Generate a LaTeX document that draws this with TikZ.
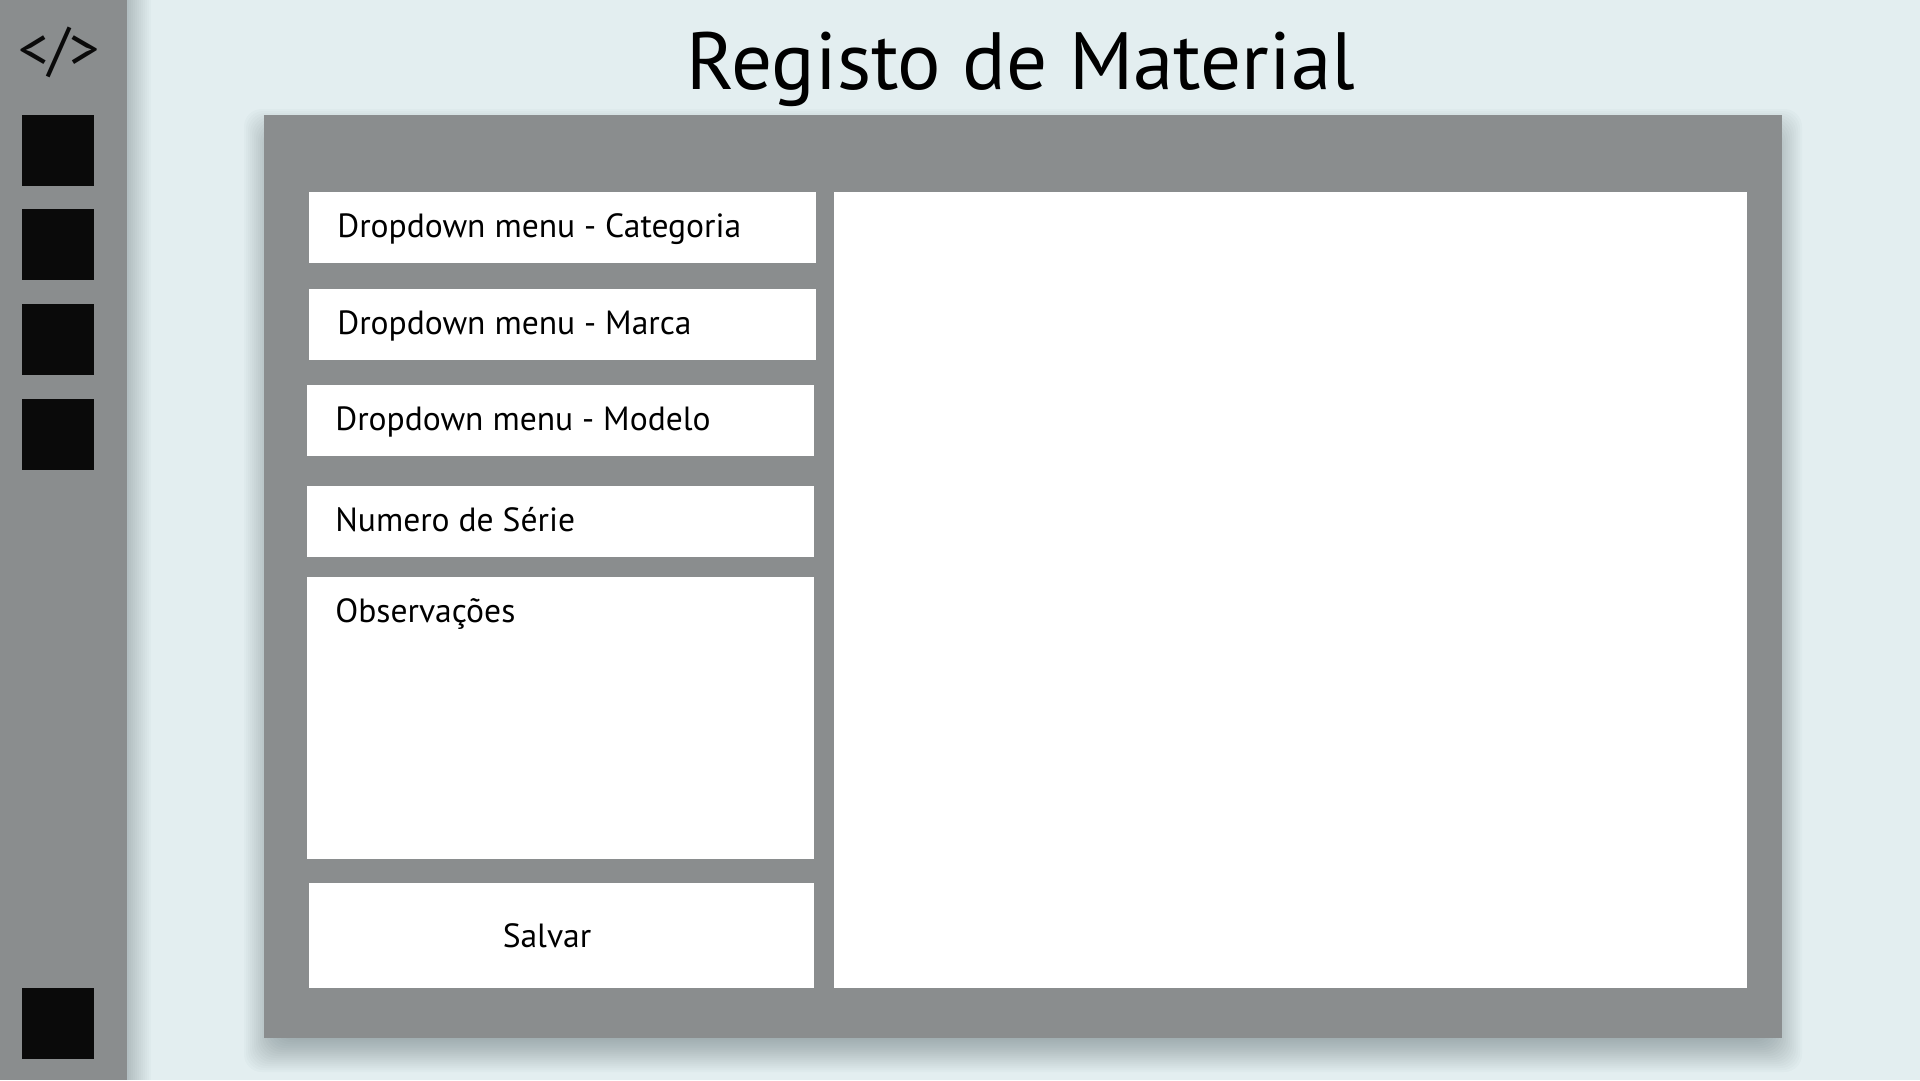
\documentclass[tikz,border=0pt]{standalone}
\usepackage{fontspec}
\setmainfont{PT Sans}
\usetikzlibrary{positioning}
\definecolor{Sky}{HTML}{E3EEF0}
\definecolor{Slate}{HTML}{8A8D8E}
\definecolor{Ink}{HTML}{0A0A0A}
\definecolor{Haze}{HTML}{16282C}
\tikzset{
  navsquare/.style={fill=Ink,inner sep=0pt,minimum width=1.44cm,minimum height=1.42cm,anchor=north west},
  fieldbox/.style={fill=white,inner sep=0pt,minimum width=10.14cm,anchor=north west},
  fieldlabel/.style={font=\fontsize{19.1}{21}\selectfont,text=black,inner sep=0pt,anchor=base west}
}
\begin{document}
\begin{tikzpicture}[x=0.02cm,y=-0.02cm]
        \useasboundingbox (0,0) rectangle (1920,1080);
        \fill[Sky] (0,0) rectangle (1920,1080);
        % soft shadows
        \foreach \d in {2,4,...,24} {
          \fill[Haze,opacity=0.02] (0,0) rectangle (127+\d,1080);
        }
        \foreach \d in {0,2,...,38} {
          \fill[Haze,opacity=0.02,rounded corners=10pt] (244+\d,109+\d) rectangle (1802-\d,1072-\d);
        }
        \fill[Slate] (0,0) rectangle (127,1080);
        \node[font=\fontsize{34}{36}\selectfont,text=Ink,inner sep=0pt] (logo) at (59,52) {</>};
        \foreach \name/\y in {one/115,two/209,three/304,four/399,five/988} {
          \node[navsquare] (nav\name) at (22,\y) {};
        }
        \node[font=\fontsize{46.2}{50}\selectfont,text=black,inner sep=0pt,anchor=base] (title) at (1021,89) {Registo de Material};
        % main panel
        \node[fill=Slate,inner sep=0pt,minimum width=30.36cm,minimum height=18.46cm,anchor=north west] (panel) at (264,115) {};
        \node[fieldbox,minimum height=1.42cm] (categoria) at (309,192) {};
        \node[fieldbox,minimum height=1.42cm] (marca) at (309,289) {};
        \node[fieldbox,minimum height=1.42cm] (modelo) at (307,385) {};
        \node[fieldbox,minimum height=1.42cm] (serie) at (307,486) {};
        \node[fieldbox,minimum height=5.64cm] (obs) at (307,577) {};
        \node[fieldbox,minimum width=10.1cm,minimum height=2.1cm] (salvar) at (309,883) {};
        \node[fieldbox,minimum width=18.26cm,minimum height=15.92cm] (preview) at (834,192) {};
        \node[fieldlabel] (labcategoria) at (337,237) {Dropdown menu - Categoria};
        \node[fieldlabel] (labmarca) at (337,334) {Dropdown menu - Marca};
        \node[fieldlabel] (labmodelo) at (335,430) {Dropdown menu - Modelo};
        \node[fieldlabel] (labserie) at (335,531) {Numero de Série};
        \node[fieldlabel] (labobs) at (335,622) {Observações};
        \node[fieldlabel,anchor=base] (labsalvar) at (547,947) {Salvar};
      \end{tikzpicture}
\end{document}
